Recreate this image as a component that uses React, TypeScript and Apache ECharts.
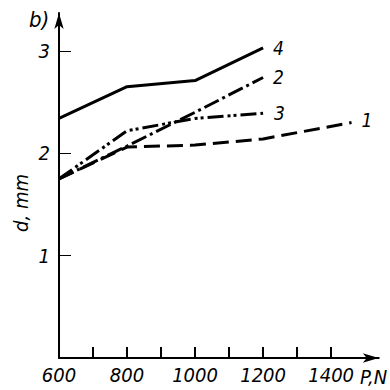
import React, { useEffect, useRef } from "react";
import * as echarts from "echarts";

const xTickValues = [700, 800, 900, 1000, 1100, 1200, 1300, 1400];
const xLabelValues = [600, 800, 1000, 1200, 1400];
const yTickValues = [1, 2, 3];

const curve1: [number, number][] = [[600, 1.75], [800, 2.06], [1000, 2.08], [1200, 2.14], [1460, 2.3]];
const curve2: [number, number][] = [[600, 1.75], [800, 2.07], [1000, 2.4], [1200, 2.74]];
const curve3: [number, number][] = [[600, 1.75], [800, 2.22], [1000, 2.34], [1200, 2.39]];
const curve4: [number, number][] = [[600, 2.34], [800, 2.65], [1000, 2.71], [1200, 3.03]];

const FONT = "'Liberation Sans Narrow', 'DejaVu Sans Condensed', sans-serif";

export default function App() {
  const ref = useRef<HTMLDivElement>(null);
  useEffect(() => {
    if (!ref.current) return;
    const chart = echarts.init(ref.current, null, { renderer: "svg" });
    const txt = { fontFamily: FONT, fontStyle: "italic" as const, fontSize: 20, color: "#000" };
    const mk = (name: string, data: [number, number][], type: any, dx: number, dy: number) => ({
      type: "line",
      name,
      data,
      symbol: "none",
      lineStyle: { color: "#000", width: 3, type, cap: "butt" },
      endLabel: {
        show: true,
        formatter: name,
        offset: [dx, dy],
        ...txt,
        fontSize: 19,
      },
    });
    chart.setOption({
      animation: false,
      backgroundColor: "#fff",
      title: {
        text: "b)",
        left: 24,
        top: 3,
        textStyle: { ...txt, fontWeight: "normal", fontSize: 22 },
      },
      grid: { left: 59, right: 10, top: 13, bottom: 32, containLabel: false },
      xAxis: {
        type: "value",
        min: 600,
        max: 1540,
        name: "P,N",
        nameLocation: "end",
        nameGap: -20,
        nameTextStyle: { ...txt, align: "center", verticalAlign: "top", padding: [9, 0, 0, 0] },
        splitLine: { show: false },
        axisLine: {
          show: true,
          lineStyle: { color: "#000", width: 2 },
          symbol: ["none", "arrow"],
          symbolSize: [7, 16],
        },
        axisTick: {
          show: true,
          inside: true,
          length: 11,
          customValues: xTickValues,
          lineStyle: { color: "#000", width: 2 },
        },
        axisLabel: {
          customValues: xLabelValues,
          formatter: (v: number) => String(v),
          margin: 7,
          ...txt,
        },
      },
      yAxis: {
        type: "value",
        min: 0,
        max: 3.37,
        splitLine: { show: false },
        axisLine: {
          show: true,
          lineStyle: { color: "#000", width: 2 },
          symbol: ["none", "arrow"],
          symbolSize: [7, 16],
        },
        axisTick: {
          show: true,
          inside: true,
          length: 12,
          customValues: yTickValues,
          lineStyle: { color: "#000", width: 1 },
        },
        axisLabel: {
          customValues: yTickValues,
          formatter: (v: number) => String(v),
          margin: 9,
          ...txt,
        },
      },
      graphic: [
        {
          type: "text",
          x: 21,
          y: 203,
          rotation: Math.PI / 2,
          style: {
            text: "d, mm",
            font: `italic 20px ${FONT}`,
            fill: "#000",
            align: "center",
            verticalAlign: "middle",
          },
        },
      ],
      series: [
        mk("1", curve1, [16, 7], 2, -3),
        mk("2", curve2, [16, 4, 3, 4], 2, 0),
        mk("3", curve3, [16, 4, 3, 3, 3, 4], 3, 0),
        mk("4", curve4, "solid", 2, 0),
      ],
    });
    return () => chart.dispose();
  }, []);
  return <div ref={ref} style={{ position: "fixed", left: 0, top: 0, width: 390, height: 390 }} />;
}
